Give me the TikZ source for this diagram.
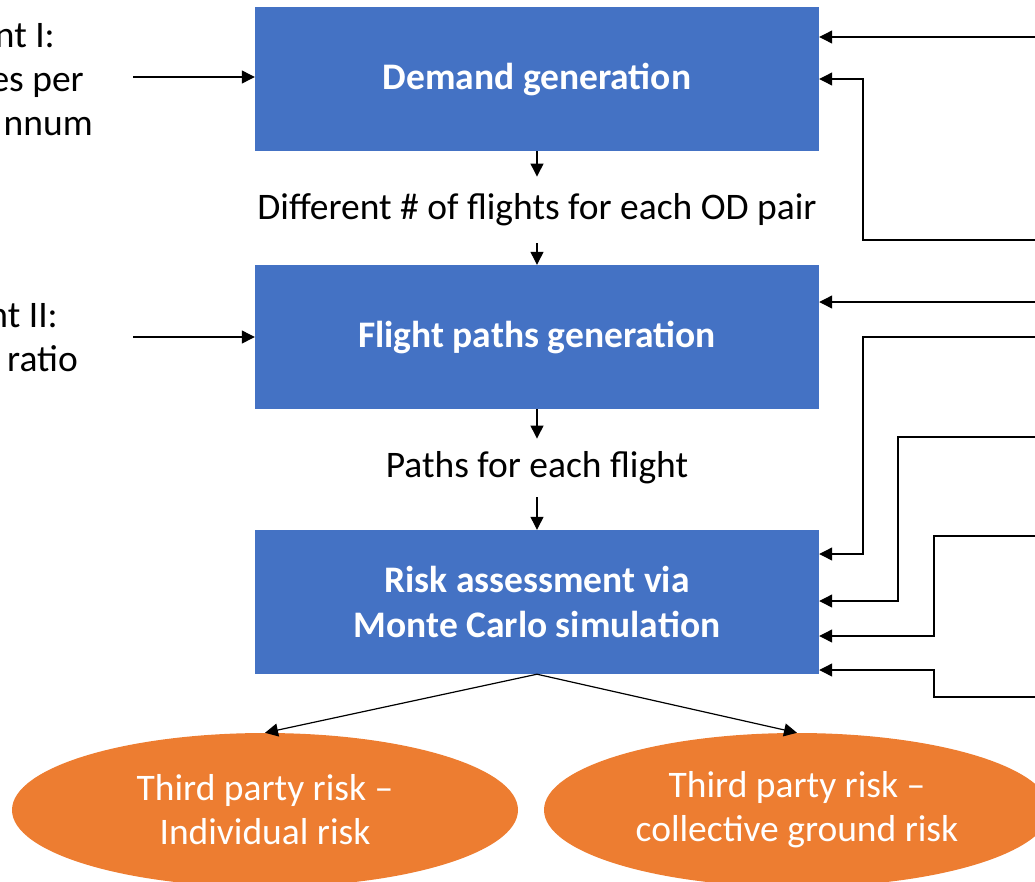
\documentclass[tikz,border=0pt]{standalone}
\usepackage{fontspec}
\setmainfont{Carlito}
\usetikzlibrary{arrows.meta,shapes.geometric}
\definecolor{boxblue}{HTML}{4472C4}
\definecolor{ellorange}{HTML}{ED7D31}
\begin{document}
\begin{tikzpicture}[x=1pt,y=-1pt,
  box/.style={fill=boxblue,draw=none,minimum width=564pt,minimum height=144pt,text=white,font=\fontsize{37.5}{45}\selectfont\bfseries,align=center,inner sep=0pt},
  ell/.style={ellipse,fill=ellorange,draw=none,minimum width=506pt,minimum height=154pt,text=white,font=\fontsize{37.5}{44}\selectfont,align=center,inner sep=0pt},
  lbl/.style={font=\fontsize{37.5}{45}\selectfont,inner xsep=0pt},
  side/.style={font=\fontsize{37.5}{45}\selectfont,inner sep=0pt,anchor=base east},
  arr/.style={draw=black,line width=1.2pt,-{Triangle[length=13pt,width=13pt]}},
  ln/.style={draw=black,line width=1.2pt}]
\useasboundingbox (0,0) rectangle (1035,881);
\clip (0,0) rectangle (1035,881);
% main boxes
\node[box] (dg) at (537,79) {Demand generation};
\node[box] (fp) at (537,337) {Flight paths generation};
\node[box] (ra) at (537,602) {Risk assessment via\\Monte Carlo simulation};
% intermediate labels
\node[lbl,inner ysep=17pt] (l1) at (537,210) {Different \# of flights for each OD pair};
\node[lbl,inner ysep=13pt] (l2) at (537,468) {Paths for each flight};
\draw[arr] (dg.south) -- (l1.north);
\draw[arr] (l1.south) -- (fp.north);
\draw[arr] (fp.south) -- (l2.north);
\draw[arr] (l2.south) -- (ra.north);
% left inputs
\node[side] (a1) at (55,47) {nt I:};
\node[side] (a2) at (84,91) {es per};
\node[side] (a3) at (93,135) {nnum};
\node[side] (b1) at (58,327) {nt II:};
\node[side] (b2) at (78,371) {ratio};
\coordinate (la) at (133,77);
\coordinate (lb) at (133,337);
\draw[arr] (la) -- (la -| dg.west);
\draw[arr] (lb) -- (lb -| fp.west);
% right inputs
\coordinate (r1) at (1040,37);
\coordinate (r2) at (1040,240);
\coordinate (r3) at (1040,302);
\coordinate (r4) at (1040,337);
\coordinate (r5) at (1040,437);
\coordinate (r6) at (1040,536);
\coordinate (r7) at (1040,697);
\draw[arr] (r1) -- (r1 -| dg.east);
\draw[arr] (r2) -- (863,240) -- (863,79) -- (dg.east |- 0,79);
\draw[arr] (r3) -- (r3 -| fp.east);
\draw[arr] (r4) -- (863,337) -- (863,554) -- (ra.east |- 0,554);
\draw[arr] (r5) -- (898,437) -- (898,601) -- (ra.east |- 0,601);
\draw[arr] (r6) -- (934,536) -- (934,636) -- (ra.east |- 0,636);
\draw[arr] (r7) -- (934,697) -- (934,670) -- (ra.east |- 0,670);
% outcomes
\node[ell] (e1) at (265,810) {Third party risk –\\Individual risk};
\node[ell] (e2) at (797,810) {Third party risk –\\collective ground risk};
\draw[arr] (ra.south) -- (e1.north);
\draw[arr] (ra.south) -- (e2.north);
\end{tikzpicture}
\end{document}
